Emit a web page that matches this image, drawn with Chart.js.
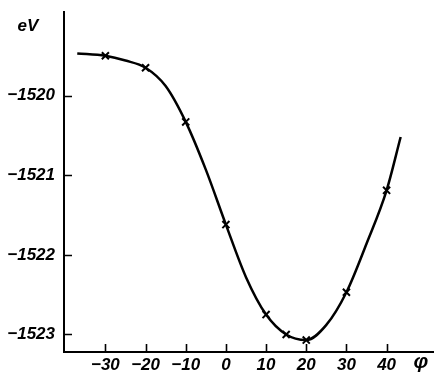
<!DOCTYPE html>
<html>
<head>
<meta charset="utf-8">
<script src="https://cdn.jsdelivr.net/npm/chart.js@4.4.1/dist/chart.umd.min.js"></script>
<style>
html,body{margin:0;padding:0;background:#fff;}
#wrap{width:434px;height:373px;}
</style>
</head>
<body>
<div id="wrap"><canvas id="c" width="434" height="373"></canvas></div>
<script>
// Measured points (×)
const phiMeasured = [-30, -20, -10, 0, 10, 15, 20, 30, 40];
const energyMeasured = [-1519.50, -1519.65, -1520.33, -1521.62, -1522.75, -1523.00, -1523.07, -1522.47, -1521.19];
// Smooth drawn curve
const phiCurve = [-37, -30, -25, -20, -15, -10, -5, 0, 5, 10, 15, 20, 25, 30, 35, 40, 43.5];
const energyCurve = [-1519.47, -1519.50, -1519.56, -1519.65, -1519.88, -1520.33, -1520.93, -1521.62, -1522.28, -1522.75, -1523.00, -1523.07, -1522.88, -1522.47, -1521.86, -1521.19, -1520.52];
// Tick labels
const xTicks = [-30, -20, -10, 0, 10, 20, 30, 40];
const yTicks = [-1520, -1521, -1522, -1523];
const yUnit = 'eV';
const xUnit = 'φ';

const FONT = '"Liberation Sans", Arial, sans-serif';
const fmt = v => String(v).replace('-', '\u2212');

const tickPlugin = {
  id: 'innerTicks',
  afterDraw(chart) {
    const ctx = chart.ctx, xs = chart.scales.x, ys = chart.scales.y, a = chart.chartArea;
    ctx.save();
    ctx.strokeStyle = '#000';
    ctx.lineWidth = 1.6;
    ctx.beginPath();
    xTicks.forEach(v => {
      const p = Math.round(xs.getPixelForValue(v)) + 0.5;
      ctx.moveTo(p, a.bottom); ctx.lineTo(p, a.bottom - 8);
    });
    yTicks.forEach(v => {
      const p = Math.round(ys.getPixelForValue(v)) + 0.5;
      ctx.moveTo(a.left, p); ctx.lineTo(a.left + 8, p);
    });
    ctx.stroke();
    ctx.fillStyle = '#000';
    ctx.font = 'italic bold 17px ' + FONT;
    ctx.textAlign = 'center';
    ctx.textBaseline = 'middle';
    ctx.fillText(yUnit, 28, 26);
    ctx.font = 'italic bold 21px ' + FONT;
    ctx.fillText(xUnit, 421, 362);
    ctx.restore();
  }
};

new Chart(document.getElementById('c'), {
  type: 'scatter',
  data: {
    datasets: [
      {
        type: 'line',
        data: phiCurve.map((x, i) => ({x, y: energyCurve[i]})),
        borderColor: '#000',
        borderWidth: 2.5,
        pointRadius: 0,
        cubicInterpolationMode: 'monotone',
        fill: false
      },
      {
        data: phiMeasured.map((x, i) => ({x, y: energyMeasured[i]})),
        showLine: false,
        pointStyle: 'crossRot',
        pointRadius: 5,
        borderColor: '#000',
        borderWidth: 2,
        backgroundColor: '#000'
      }
    ]
  },
  plugins: [tickPlugin],
  options: {
    responsive: false,
    animation: false,
    events: [],
    layout: {autoPadding: false, padding: {top: 12, right: 0, left: 0, bottom: 0}},
    plugins: {legend: {display: false}, tooltip: {enabled: false}},
    scales: {
      x: {
        type: 'linear',
        min: -40.3, max: 51.8,
        afterBuildTicks(s) { s.ticks = xTicks.map(v => ({value: v})); },
        afterFit(s) { s.height = 21; s.paddingLeft = 0; s.paddingRight = 0; },
        grid: {display: false, drawTicks: false},
        border: {display: true, color: '#000', width: 2},
        ticks: {
          color: '#000',
          padding: 3,
          maxRotation: 0,
          autoSkip: false,
          font: {family: FONT, size: 17, style: 'italic', weight: 'bold'},
          callback: v => fmt(v)
        }
      },
      y: {
        type: 'linear',
        min: -1523.22, max: -1518.95,
        afterBuildTicks(s) { s.ticks = yTicks.map(v => ({value: v})); },
        afterFit(s) { s.width = 64; s.paddingTop = 0; s.paddingBottom = 0; },
        grid: {display: false, drawTicks: false},
        border: {display: true, color: '#000', width: 2},
        ticks: {
          color: '#000',
          padding: 9,
          autoSkip: false,
          font: {family: FONT, size: 17, style: 'italic', weight: 'bold'},
          callback: v => fmt(v)
        }
      }
    }
  }
});
</script>
</body>
</html>
